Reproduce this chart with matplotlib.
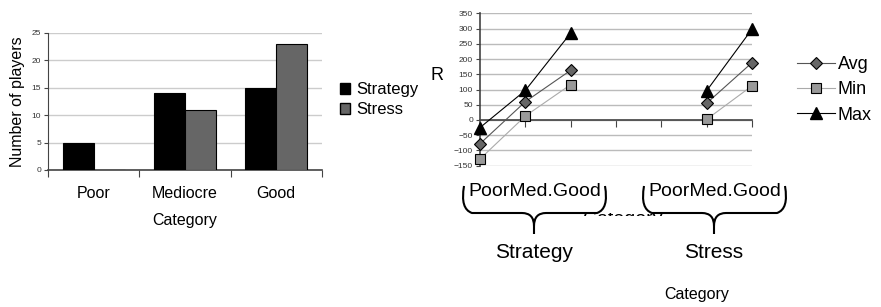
import numpy as np
import matplotlib.pyplot as plt
from matplotlib.path import Path
from matplotlib.patches import PathPatch, Rectangle

plt.rcParams['font.family'] = ['Liberation Sans', 'DejaVu Sans']

# left chart data
categories = ["Poor", "Mediocre", "Good"]
strategy_counts = [5, 14, 15]
stress_counts = [0, 11, 23]

# right chart data (positions: Strategy P/M/G, gap, Stress P/M/G)
group_labels = ["Strategy", "Stress"]
avg_vals = [-78, 60, 163, np.nan, np.nan, 55, 188]
min_vals = [-128, 13, 116, np.nan, np.nan, 2, 112]
max_vals = [-25, 97, 285, np.nan, np.nan, 96, 298]

W, H = 881, 307
fig = plt.figure(figsize=(W / 100, H / 100), dpi=100)


def px(x0, y0, x1, y1):
    return [x0 / W, 1 - y1 / H, (x1 - x0) / W, (y1 - y0) / H]


# ---- left bar chart
ax1 = fig.add_axes(px(48, 32.7, 322, 170))
x = np.arange(len(categories))
bw = 0.34
ax1.bar(x - bw / 2, strategy_counts, bw, color="black", edgecolor="black", lw=0.8, zorder=3)
ax1.bar(x + bw / 2, stress_counts, bw, color="#666666", edgecolor="black", lw=0.8, zorder=3)
ax1.set_xlim(-0.5, 2.5)
ax1.set_ylim(0, 25)
ax1.set_yticks(range(0, 26, 5))
ax1.yaxis.grid(True, color="#cccccc", lw=1)
ax1.set_axisbelow(True)
for s in ["top", "right"]:
    ax1.spines[s].set_visible(False)
ax1.spines["left"].set_color("#444444")
ax1.spines["bottom"].set_color("#444444")
ax1.spines["bottom"].set_linewidth(1.2)
ax1.set_xticks([-0.5, 0.5, 1.5, 2.5])
ax1.set_xticklabels([])
ax1.tick_params(axis="x", length=5, color="#444444")
ax1.tick_params(axis="y", labelsize=6, length=3, pad=2, color="#444444", labelcolor="#333333")
for i, c in enumerate(categories):
    fig.text((48 + 91.3 * (i + 0.5)) / W, 1 - 193 / H, c, ha="center", va="center", fontsize=11.5)
fig.text(185 / W, 1 - 221 / H, "Category", ha="center", va="center", fontsize=11.5)
ax1.set_ylabel("Number of players", fontsize=11.5, labelpad=5)

fig.legend(handles=[Rectangle((0, 0), 1, 1, fc="black", ec="black"),
                    Rectangle((0, 0), 1, 1, fc="#666666", ec="black")],
           labels=["Strategy", "Stress"], loc="center left",
           bbox_to_anchor=(340 / W, 1 - 100 / H), frameon=False, fontsize=12,
           handlelength=0.6, handleheight=0.6, handletextpad=0.35, labelspacing=0.3,
           borderpad=0, borderaxespad=0)

# ---- right line chart
ax2 = fig.add_axes(px(480, 13.3, 752, 165.7))
pos = np.arange(len(avg_vals))
ax2.plot(pos, avg_vals, color="#555555", lw=0.8, marker="D", ms=6.5, mfc="#666666", mec="black",
         mew=0.8, clip_on=False, zorder=4, label="Avg")
ax2.plot(pos, min_vals, color="#aaaaaa", lw=0.8, marker="s", ms=7.5, mfc="#999999", mec="black",
         mew=0.8, clip_on=False, zorder=4, label="Min")
ax2.plot(pos, max_vals, color="black", lw=0.8, marker="^", ms=8.5, mfc="black", mec="black",
         clip_on=False, zorder=5, label="Max")
ax2.set_xlim(0, 6)
ax2.set_ylim(-150, 350)
ax2.set_yticks(range(-150, 351, 50))
ax2.yaxis.grid(True, color="#bbbbbb", lw=1)
ax2.set_axisbelow(True)
for s in ["top", "right"]:
    ax2.spines[s].set_visible(False)
ax2.spines["bottom"].set_position(("data", 0))
ax2.spines["bottom"].set_color("#444444")
ax2.spines["bottom"].set_linewidth(1.2)
ax2.spines["left"].set_color("#444444")
ax2.spines["left"].set_linewidth(1.2)
ax2.set_xticks(range(1, 7))
ax2.set_xticklabels([])
ax2.tick_params(axis="x", length=5, color="#444444")
ax2.tick_params(axis="y", labelsize=6, length=3, pad=2, color="#444444", labelcolor="#333333")

ax2.legend(loc="center left", bbox_to_anchor=(797 / W, 1 - 90 / H), bbox_transform=fig.transFigure,
           frameon=False, fontsize=13, handlelength=2.1, handletextpad=0.15, labelspacing=0.45,
           borderpad=0, borderaxespad=0)

fig.text(437 / W, 1 - 76 / H, "R", ha="center", va="center", fontsize=13)

# group labels with braces
for x0, x1, tip, lab in [(462, 607, 534, group_labels[0]), (642, 787, 714, group_labels[1])]:
    fig.text((x0 + x1) / 2 / W, 1 - 192 / H, "PoorMed.Good", ha="center", va="center", fontsize=14)
    yt, ym, yb = 186, 213, 234
    verts = [(x0 + 2, yt), (x0 - 2, ym - 4), (x0 + 10, ym), (tip - 12, ym),
             (tip, ym), (tip, yb - 8), (tip, yb),
             (tip, yb - 8), (tip, ym), (tip + 12, ym),
             (x1 - 10, ym), (x1 + 2, ym - 4), (x1 - 2, yt)]
    codes = [Path.MOVETO, Path.CURVE3, Path.CURVE3, Path.LINETO,
             Path.CURVE3, Path.CURVE3, Path.LINETO,
             Path.MOVETO, Path.CURVE3, Path.CURVE3,
             Path.LINETO, Path.CURVE3, Path.CURVE3]
    verts = [(a / W, 1 - b / H) for a, b in verts]
    fig.add_artist(PathPatch(Path(verts, codes), transform=fig.transFigure, fc="none",
                             ec="black", lw=1.5))
    fig.text(tip / W, 1 - 253 / H, lab, ha="center", va="center", fontsize=15)

# axis title hidden behind the braces, only its top shows
t = fig.text(623 / W, 1 - 220 / H, "Category", ha="center", va="center", fontsize=14)
clip = Rectangle((580 / W, 1 - 216 / H), 90 / W, 3 / H, transform=fig.transFigure)
t.set_clip_path(clip)

fig.text(697 / W, 1 - 295 / H, "Category", ha="center", va="center", fontsize=11.5)

fig.savefig("out.png", dpi=100)
